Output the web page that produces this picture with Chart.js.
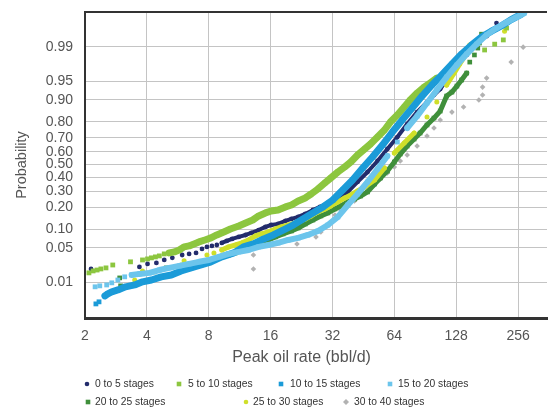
<!DOCTYPE html>
<html>
<head>
<meta charset="utf-8">
<script src="https://cdn.jsdelivr.net/npm/chart.js@4.4.1/dist/chart.umd.min.js"></script>
<style>
html, body { margin: 0; padding: 0; background: #fff; }
canvas { display: block; }
</style>
</head>
<body>
<canvas id="myChart" width="551" height="407"></canvas>
<script>
// ticks
const xTicks = [2, 4, 8, 16, 32, 64, 128, 256];
const probTicks = [0.01, 0.05, 0.10, 0.20, 0.30, 0.40, 0.50, 0.60, 0.70, 0.80, 0.90, 0.95, 0.99];
const probTickLabels = ['0.01', '0.05', '0.10', '0.20', '0.30', '0.40', '0.50', '0.60', '0.70', '0.80', '0.90', '0.95', '0.99'];

const seriesNames = ['0 to 5 stages', '5 to 10 stages', '10 to 15 stages', '15 to 20 stages',
  '20 to 25 stages', '25 to 30 stages', '30 to 40 stages'];

// peak oil rate (bbl/d) and cumulative probability
const rate0to5 = [2.14, 3.68, 4.03, 4.45, 4.86, 5.32, 5.94, 6.42, 6.94, 7.42, 7.84, 8.29, 8.76, 9.26, 9.79, 10.4, 11.2, 12.1, 12.9, 14.0,
  15.1, 16.1, 17.4, 18.9, 20.2, 21.8, 23.6, 25.7, 27.8, 30.4, 34.0, 38.0, 42.4, 47.4, 53.0, 59.2, 66.2, 73.9, 82.6, 92.3,
  99.8, 107, 115, 129, 144, 161, 180, 201];
const prob0to5 = [0.0195, 0.0215, 0.0247, 0.0259, 0.0296, 0.0325, 0.0368, 0.0386, 0.0403, 0.0476, 0.0517, 0.0538, 0.0558, 0.0606, 0.0654, 0.0706, 0.0762, 0.0818, 0.0881, 0.0976,
  0.1086, 0.1158, 0.1199, 0.1322, 0.1409, 0.1500, 0.1642, 0.1843, 0.2008, 0.2237, 0.2477, 0.2936, 0.3650, 0.4410, 0.5276, 0.6203, 0.7063, 0.7881, 0.8499, 0.8914,
  0.9153, 0.9320, 0.9525, 0.9741, 0.9848, 0.9909, 0.9944, 0.9974];

const rate5to10 = [2.09, 2.19, 2.29, 2.39, 2.53, 2.73, 3.33, 3.81, 4.03, 4.21, 4.40, 4.60, 4.86, 5.14, 5.44, 5.75, 6.07, 6.42, 6.79, 7.17,
  7.67, 8.20, 8.76, 9.47, 10.2, 11.2, 12.1, 13.1, 14.0, 15.1, 16.1, 17.4, 18.9, 20.2, 21.8, 23.6, 25.2, 27.2, 29.4, 31.4,
  34.0, 36.7, 39.3, 42.4, 45.9, 49.0, 53.0, 57.3, 61.2, 66.2, 71.5, 76.4, 82.6, 89.3, 95.5, 103, 176, 197, 217, 225];
const prob5to10 = [0.0161, 0.0177, 0.0185, 0.0195, 0.0205, 0.0235, 0.0272, 0.0296, 0.0310, 0.0325, 0.0339, 0.0354, 0.0386, 0.0403, 0.0420, 0.0455, 0.0517, 0.0538, 0.0582, 0.0630,
  0.0679, 0.0734, 0.0818, 0.0913, 0.1013, 0.1122, 0.1240, 0.1363, 0.1546, 0.1692, 0.1793, 0.1843, 0.2008, 0.2119, 0.2355, 0.2541, 0.2800, 0.3143, 0.3576, 0.3949,
  0.4410, 0.4803, 0.5197, 0.5746, 0.6203, 0.6571, 0.7063, 0.7524, 0.7992, 0.8360, 0.8718, 0.8989, 0.9210, 0.9370, 0.9462, 0.9561, 0.9882, 0.9913, 0.9931, 0.9965];

const rate10to15 = [2.26, 2.34, 2.50, 2.58, 2.70, 2.89, 3.15, 3.49, 3.81, 4.21, 4.70, 5.26, 5.87, 6.56, 7.34, 8.20, 9.26, 10.6, 11.8, 13.2,
  14.8, 16.5, 18.4, 20.6, 23.0, 25.7, 28.8, 32.1, 35.9, 40.1, 44.9, 50.1, 56.0, 62.6, 69.9, 78.2, 87.3, 97.6, 109, 122,
  136, 152, 170, 190, 212, 237, 265];
const prob10to15 = [0.00293, 0.00332, 0.00471, 0.00528, 0.00593, 0.00657, 0.00781, 0.00864, 0.0102, 0.0112, 0.0132, 0.0145, 0.0177, 0.0205, 0.0235, 0.0272, 0.0339, 0.0403, 0.0517, 0.0582,
  0.0706, 0.0818, 0.0976, 0.1158, 0.1409, 0.1692, 0.2008, 0.2414, 0.3072, 0.3798, 0.4724, 0.5589, 0.6499, 0.7394, 0.8103, 0.8676, 0.9120, 0.9419, 0.9616, 0.9764,
  0.9855, 0.9909, 0.9941, 0.9958, 0.9969, 0.9979, 0.9985];

const rate15to20 = [2.24, 2.36, 2.55, 2.70, 2.89, 3.12, 3.37, 3.68, 4.12, 4.60, 5.14, 5.75, 6.42, 7.17, 8.02, 8.96, 10.0, 11.2, 12.5, 14.0,
  15.6, 17.4, 19.5, 21.8, 24.3, 27.2, 30.4, 34.0, 38.0, 42.4, 47.4, 53.0, 59.2, 66.2, 73.9, 82.6, 92.3, 103, 115, 129,
  144, 161, 180, 201, 225, 251, 274];
const prob15to20 = [0.00781, 0.00823, 0.00864, 0.00967, 0.0112, 0.0132, 0.0145, 0.0153, 0.0161, 0.0185, 0.0205, 0.0225, 0.0247, 0.0272, 0.0296, 0.0339, 0.0386, 0.0420, 0.0455, 0.0517,
  0.0558, 0.0606, 0.0679, 0.0734, 0.0818, 0.0945, 0.1158, 0.1500, 0.2119, 0.2800, 0.3650, 0.4645, 0.5667, 0.6714, 0.7645, 0.8308, 0.8877, 0.9296, 0.9580, 0.9754,
  0.9855, 0.9913, 0.9948, 0.9965, 0.9975, 0.9982, 0.9986];

const rate20to25 = [2.95, 2.98, 4.35, 4.97, 8.02, 8.48, 9.16, 10.0, 10.8, 11.6, 12.5, 13.5, 14.4, 15.6, 16.9, 18.4, 20.2, 21.8, 23.6, 25.7,
  28.1, 30.4, 32.9, 35.1, 38.0, 41.0, 43.9, 47.4, 51.3, 54.8, 59.2, 64.0, 68.4, 73.9, 79.9, 85.4, 92.3, 99.8, 107, 115,
  122, 129, 136, 144, 149, 157, 163, 166, 170];
const prob20to25 = [0.0125, 0.00823, 0.0169, 0.0205, 0.0259, 0.0296, 0.0339, 0.0368, 0.0403, 0.0455, 0.0517, 0.0558, 0.0606, 0.0679, 0.0762, 0.0850, 0.0945, 0.1049, 0.1199, 0.1363,
  0.1546, 0.1692, 0.1898, 0.2064, 0.2296, 0.2477, 0.2669, 0.2936, 0.3501, 0.3949, 0.4488, 0.5197, 0.5822, 0.6425, 0.6926, 0.7330, 0.7826, 0.8206, 0.8546, 0.9120,
  0.9238, 0.9395, 0.9525, 0.9646, 0.9785, 0.9848, 0.9893, 0.9918, 0.9950];

const rate25to30 = [3.49, 3.81, 5.87, 6.07, 7.84, 8.48, 9.26, 10.0, 10.8, 11.6, 12.5, 13.5, 14.4, 15.6, 16.9, 18.0, 19.5, 21.8, 23.6, 25.2,
  27.2, 29.4, 31.4, 34.0, 36.7, 39.3, 42.4, 45.9, 51.3, 57.3, 64.0, 71.5, 79.9, 92.3, 103, 115, 125, 133, 141, 149,
  220, 257];
const prob25to30 = [0.0112, 0.0177, 0.0235, 0.0284, 0.0368, 0.0403, 0.0455, 0.0517, 0.0558, 0.0606, 0.0679, 0.0790, 0.0850, 0.0913, 0.1013, 0.1086, 0.1158, 0.1281, 0.1409, 0.1546,
  0.1743, 0.1898, 0.2064, 0.2296, 0.2541, 0.2733, 0.3004, 0.3285, 0.3798, 0.4724, 0.5899, 0.6643, 0.7330, 0.8257, 0.8914, 0.9419, 0.9646, 0.9764, 0.9839, 0.9909,
  0.9958, 0.9983];

const rate30to40 = [13.2, 13.2, 21.5, 26.6, 28.1, 29.7, 32.9, 35.1, 38.0, 41.0, 43.9, 47.4, 51.3, 54.8, 59.2, 64.0, 68.4, 73.9, 82.6, 92.3,
  99.8, 107, 122, 139, 165, 172, 172, 180, 237, 271];
const prob30to40 = [0.0368, 0.0195, 0.0582, 0.0762, 0.0913, 0.1086, 0.1592, 0.1843, 0.2064, 0.2355, 0.2669, 0.3004, 0.3427, 0.3874, 0.4332, 0.4803, 0.5276, 0.5746, 0.6425, 0.7132,
  0.7645, 0.8103, 0.8499, 0.8718, 0.8989, 0.9153, 0.9370, 0.9561, 0.9785, 0.9898];

// inverse normal cdf (Acklam) -> probability paper
function probit(p) {
  const a = [-3.969683028665376e+01, 2.209460984245205e+02, -2.759285104469687e+02, 1.383577518672690e+02, -3.066479806614716e+01, 2.506628277459239e+00];
  const b = [-5.447609879822406e+01, 1.615858368580409e+02, -1.556989798598866e+02, 6.680131188771972e+01, -1.328068155288572e+01];
  const c = [-7.784894002430293e-03, -3.223964580411365e-01, -2.400758277161838e+00, -2.549732539343734e+00, 4.374664141464968e+00, 2.938163982698783e+00];
  const d = [7.784695709041462e-03, 3.224671290700398e-01, 2.445134137142996e+00, 3.754408661907416e+00];
  const pl = 0.02425;
  let q, r;
  if (p < pl) {
    q = Math.sqrt(-2 * Math.log(p));
    return (((((c[0]*q+c[1])*q+c[2])*q+c[3])*q+c[4])*q+c[5]) / ((((d[0]*q+d[1])*q+d[2])*q+d[3])*q+1);
  }
  if (p > 1 - pl) {
    q = Math.sqrt(-2 * Math.log(1 - p));
    return -(((((c[0]*q+c[1])*q+c[2])*q+c[3])*q+c[4])*q+c[5]) / ((((d[0]*q+d[1])*q+d[2])*q+d[3])*q+1);
  }
  q = p - 0.5; r = q * q;
  return (((((a[0]*r+a[1])*r+a[2])*r+a[3])*r+a[4])*r+a[5])*q / (((((b[0]*r+b[1])*r+b[2])*r+b[3])*r+b[4])*r+1);
}

function toPoints(rates, probs) {
  return rates.map((r, i) => ({ x: r, y: probit(probs[i]) }));
}

const FONT = '"Liberation Sans", Arial, sans-serif';

// band look: join close points inside a rate window, leave the rest as loose marks
function band(rates, fromRate, toRate, gap) {
  return {
    borderColor: ctx => {
      const p0 = ctx.p0, p1 = ctx.p1;
      const dist = Math.hypot(p1.x - p0.x, p1.y - p0.y);
      const r = rates[ctx.p0DataIndex];
      if (r < fromRate || r >= toRate || dist > gap) return 'rgba(0,0,0,0)';
      return undefined;
    }
  };
}

function makeSet(label, rates, probs, color, style, radius, lineW, fromRate, toRate, order) {
  return {
    label: label,
    data: toPoints(rates, probs),
    backgroundColor: color,
    borderColor: color,
    pointStyle: style,
    pointRadius: radius,
    pointBorderWidth: 0,
    showLine: lineW > 0,
    borderWidth: lineW,
    borderCapStyle: 'round',
    borderJoinStyle: 'round',
    segment: band(rates, fromRate, toRate, 17),
    order: order
  };
}

const datasets = [
  makeSet(seriesNames[0], rate0to5, prob0to5, '#232c6c', 'circle', 2.4, 4, 9, 110, 5),
  makeSet(seriesNames[1], rate5to10, prob5to10, '#8cc63f', 'rect', 3.4, 7, 5, 100, 3),
  makeSet(seriesNames[2], rate10to15, prob10to15, '#1b9bd8', 'rect', 3.4, 7, 2.4, 999, 2),
  makeSet(seriesNames[3], rate15to20, prob15to20, '#6cc5ec', 'rect', 3.4, 6, 3.3, 999, 1),
  makeSet(seriesNames[4], rate20to25, prob20to25, '#3f8f3b', 'rect', 3.3, 5, 9, 140, 6),
  makeSet(seriesNames[5], rate25to30, prob25to30, '#cfdf2a', 'circle', 2.5, 5, 9, 150, 4),
  makeSet(seriesNames[6], rate30to40, prob30to40, '#b2b2b2', 'rectRot', 2.8, 0, 9999, 9999, 7)
];

const legendSpots = [
  { mx: 87, tx: 95, y: 384 }, { mx: 179, tx: 188, y: 384 }, { mx: 281, tx: 290, y: 384 }, { mx: 390, tx: 398, y: 384 },
  { mx: 88, tx: 95, y: 402 }, { mx: 246, tx: 253, y: 402 }, { mx: 346, tx: 354, y: 402 }
];

const extras = {
  id: 'extras',
  afterDraw(chart) {
    const ctx = chart.ctx, a = chart.chartArea;
    ctx.save();
    // top frame
    ctx.strokeStyle = '#333';
    ctx.lineWidth = 2;
    ctx.beginPath();
    ctx.moveTo(a.left - 1, a.top);
    ctx.lineTo(a.right, a.top);
    ctx.stroke();
    // x title
    ctx.fillStyle = '#555';
    ctx.font = '16px ' + FONT;
    ctx.textAlign = 'center';
    ctx.textBaseline = 'middle';
    ctx.fillText('Peak oil rate (bbl/d)', 301.5, 358);
    // legend
    ctx.font = '10.3px ' + FONT;
    ctx.textAlign = 'left';
    chart.data.datasets.forEach((ds, i) => {
      const s = legendSpots[i];
      ctx.fillStyle = ds.backgroundColor;
      ctx.beginPath();
      if (ds.pointStyle === 'circle') {
        ctx.arc(s.mx, s.y, 2.3, 0, Math.PI * 2);
      } else if (ds.pointStyle === 'rect') {
        ctx.rect(s.mx - 2.3, s.y - 2.3, 4.6, 4.6);
      } else {
        ctx.moveTo(s.mx, s.y - 3); ctx.lineTo(s.mx + 3, s.y);
        ctx.lineTo(s.mx, s.y + 3); ctx.lineTo(s.mx - 3, s.y);
        ctx.closePath();
      }
      ctx.fill();
      ctx.fillStyle = '#333';
      ctx.fillText(ds.label, s.tx, s.y + 0.5);
    });
    ctx.restore();
  }
};

new Chart(document.getElementById('myChart'), {
  type: 'scatter',
  data: { datasets: datasets },
  options: {
    responsive: false,
    devicePixelRatio: 1,
    animation: false,
    layout: { padding: { top: 12, right: 0, left: 0, bottom: 0 } },
    plugins: { legend: { display: false }, tooltip: { enabled: false } },
    scales: {
      x: {
        type: 'logarithmic',
        min: 2,
        max: 354,
        afterBuildTicks: axis => { axis.ticks = xTicks.map(v => ({ value: v })); },
        afterFit: scale => { scale.height = 89; scale.paddingLeft = 0; scale.paddingRight = 0; },
        ticks: {
          autoSkip: false,
          maxRotation: 0,
          padding: 10,
          color: '#555',
          font: { family: FONT, size: 14 },
          callback: v => String(v)
        },
        grid: { color: '#c4c4c4', lineWidth: 1, drawTicks: false },
        border: { color: '#333', width: 3 }
      },
      y: {
        type: 'linear',
        min: -3.034,
        max: 3.014,
        afterBuildTicks: axis => { axis.ticks = probTicks.map(p => ({ value: probit(p) })); },
        afterFit: scale => { scale.width = 85; scale.paddingTop = 0; scale.paddingBottom = 0; },
        ticks: {
          autoSkip: false,
          padding: 12,
          color: '#555',
          font: { family: FONT, size: 14 },
          callback: (v, i) => probTickLabels[i]
        },
        grid: { color: '#c4c4c4', lineWidth: 1, drawTicks: false },
        border: { color: '#333', width: 2 },
        title: {
          display: true,
          text: 'Probability',
          color: '#555',
          font: { family: FONT, size: 14.5 },
          padding: { top: 13, bottom: 0 }
        }
      }
    }
  },
  plugins: [extras]
});
</script>
</body>
</html>
